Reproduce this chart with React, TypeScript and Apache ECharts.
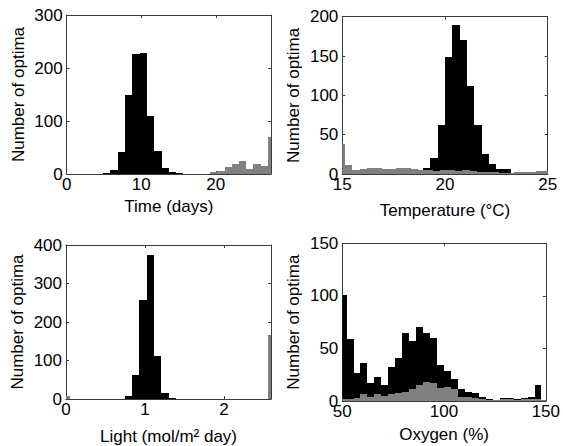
import React, { useEffect, useRef } from 'react';
import * as echarts from 'echarts';

// ---------- Data ----------
// Time panel
const timeBinWidth = 0.979;
const timeBlackFirstEdge = 4.895;
const timeBlackCounts = [2, 8, 42, 149, 227, 229, 109, 44, 11, 4, 2];
const timeGrayBinWidth = 0.969;
const timeGrayFirstEdge = 19.23;
const timeGrayCounts = [3, 6, 13, 19, 24, 10, 19, 15, 70];

// Temperature panel
const tempBinWidth = 0.357;
const tempBlackFirstEdge = 15;
const tempBlackCounts = [0, 0, 0, 0, 0, 0, 0, 0, 1, 2, 2, 7, 20, 62, 149, 189, 170, 112, 62, 26, 13, 6, 6, 1, 1, 2, 1, 1];
const tempGrayFirstEdge = 14.77;
const tempGrayCounts = [38, 11, 5, 6, 8, 8, 6, 6, 7, 7, 6, 5, 5, 4, 5, 5, 4, 5, 4, 3, 2, 2, 1, 1, 2, 3, 3, 4, 4];

// Light panel
const lightBinWidth = 0.0927;
const lightBlackFirstEdge = 0.742;
const lightBlackCounts = [8, 62, 258, 375, 112, 15, 2];
const lightGrayFirstEdge = -0.043;
const lightGrayCounts = [8, 0, 0, 0, 0, 0, 0, 0, 0, 0, 0, 0, 0, 0, 0, 0, 0, 0, 0, 0, 0, 0, 0, 0, 0, 0, 0, 0, 166];

// Oxygen panel
const oxyBinWidth = 3.42;
const oxyFirstEdge = 48.68;
const oxyBlackCounts = [101, 59, 27, 36, 17, 23, 15, 32, 41, 65, 57, 70, 65, 60, 34, 29, 21, 11, 9, 8, 4, 2, 1, 3, 3, 2, 3, 4, 15, 1];
const oxyGrayCounts = [2, 2, 3, 7, 4, 7, 5, 7, 8, 9, 11, 15, 18, 17, 12, 13, 11, 4, 4, 3, 2, 1, 1, 2, 2, 1, 2, 2, 2, 1];

// Axis labels
const yAxisTitle = 'Number of optima';
const xTitles = ['Time (days)', 'Temperature (°C)', 'Light (mol/m² day)', 'Oxygen (%)'];

// ---------- Style ----------
const FONT = "'Liberation Sans', Arial, sans-serif";
const AXIS_COLOR = '#3a3a3a';
const BLACK = '#000000';
const GRAY = '#808080';

const toBins = (first: number, width: number, counts: number[]) =>
  counts.map((c, i) => [first + i * width, first + (i + 1) * width, c]);

const renderBar = (color: string) => (params: any, api: any) => {
  const x0 = api.value(0);
  const x1 = api.value(1);
  const h = api.value(2);
  if (!h) return null;
  const p0 = api.coord([x0, 0]);
  const p1 = api.coord([x1, h]);
  const cs = params.coordSys;
  const left = Math.round(p0[0]);
  const right = Math.round(p1[0]);
  const bottom = Math.round(p0[1]);
  const top = Math.round(p1[1]);
  const rect = echarts.graphic.clipRectByRect(
    { x: left, y: top, width: right - left, height: Math.max(bottom - top, 1) },
    { x: cs.x, y: cs.y, width: cs.width, height: cs.height }
  );
  if (!rect) return null;
  return { type: 'rect', shape: rect, style: { fill: color } };
};

type PanelCfg = {
  grid: { left: number; top: number; width: number; height: number };
  xMin: number; xMax: number; xInterval: number; hideMax: boolean;
  yMax: number; yInterval: number;
  xName: string; xNameGap: number;
  black: number[][]; gray: number[][];
};

const panels: PanelCfg[] = [
  {
    grid: { left: 66.7, top: 15, width: 204.3, height: 159 },
    xMin: 0, xMax: 27.4, xInterval: 10, hideMax: true,
    yMax: 300, yInterval: 100,
    xName: xTitles[0], xNameGap: 24,
    black: toBins(timeBlackFirstEdge, timeBinWidth, timeBlackCounts),
    gray: toBins(timeGrayFirstEdge, timeGrayBinWidth, timeGrayCounts),
  },
  {
    grid: { left: 342.3, top: 16.7, width: 205.4, height: 157.3 },
    xMin: 15, xMax: 25, xInterval: 5, hideMax: false,
    yMax: 200, yInterval: 50,
    xName: xTitles[1], xNameGap: 28,
    black: toBins(tempBlackFirstEdge, tempBinWidth, tempBlackCounts),
    gray: toBins(tempGrayFirstEdge, tempBinWidth, tempGrayCounts),
  },
  {
    grid: { left: 66, top: 245, width: 205, height: 156.7 },
    xMin: 0, xMax: 2.595, xInterval: 1, hideMax: true,
    yMax: 400, yInterval: 100,
    xName: xTitles[2], xNameGap: 29,
    black: toBins(lightBlackFirstEdge, lightBinWidth, lightBlackCounts),
    gray: toBins(lightGrayFirstEdge, lightBinWidth, lightGrayCounts),
  },
  {
    grid: { left: 342.3, top: 243.3, width: 205.4, height: 157.7 },
    xMin: 50, xMax: 150, xInterval: 50, hideMax: false,
    yMax: 150, yInterval: 50,
    xName: xTitles[3], xNameGap: 25,
    black: toBins(oxyFirstEdge, oxyBinWidth, oxyBlackCounts),
    gray: toBins(oxyFirstEdge, oxyBinWidth, oxyGrayCounts),
  },
];

const textStyle = { fontSize: 17, color: '#000', fontFamily: FONT };

function buildOption() {
  const grid: any[] = [];
  const xAxis: any[] = [];
  const yAxis: any[] = [];
  const series: any[] = [];
  panels.forEach((p, i) => {
    grid.push({ ...p.grid, containLabel: false });
    const line = { show: true, onZero: false, lineStyle: { color: AXIS_COLOR, width: 1 } };
    const tick = { show: true, inside: true, length: 3, lineStyle: { color: AXIS_COLOR } };
    xAxis.push({
      type: 'value', gridIndex: i, position: 'bottom',
      min: p.xMin, max: p.xMax, interval: p.xInterval,
      axisLine: line, axisTick: tick, splitLine: { show: false },
      axisLabel: { ...textStyle, margin: 2, showMaxLabel: !p.hideMax, showMinLabel: true },
      name: p.xName, nameLocation: 'middle', nameGap: p.xNameGap,
      nameTextStyle: textStyle,
    });
    xAxis.push({
      type: 'value', gridIndex: i, position: 'top',
      min: p.xMin, max: p.xMax, interval: p.xInterval,
      axisLine: line, axisTick: tick, splitLine: { show: false },
      axisLabel: { show: false },
    });
    yAxis.push({
      type: 'value', gridIndex: i, position: 'left',
      min: 0, max: p.yMax, interval: p.yInterval,
      axisLine: line, axisTick: tick, splitLine: { show: false },
      axisLabel: { ...textStyle, margin: 4 },
      name: yAxisTitle, nameLocation: 'middle', nameGap: 40,
      nameTextStyle: textStyle,
    });
    yAxis.push({
      type: 'value', gridIndex: i, position: 'right',
      min: 0, max: p.yMax, interval: p.yInterval,
      axisLine: line, axisTick: tick, splitLine: { show: false },
      axisLabel: { show: false },
    });
    series.push({
      type: 'custom', xAxisIndex: i * 2, yAxisIndex: i * 2,
      renderItem: renderBar(BLACK), data: p.black,
      encode: { x: [0, 1], y: 2 }, z: 2,
    });
    series.push({
      type: 'custom', xAxisIndex: i * 2, yAxisIndex: i * 2,
      renderItem: renderBar(GRAY), data: p.gray,
      encode: { x: [0, 1], y: 2 }, z: 3,
    });
  });
  return {
    animation: false,
    backgroundColor: '#ffffff',
    textStyle: { fontFamily: FONT },
    grid, xAxis, yAxis, series,
  };
}

export default function App() {
  const ref = useRef<HTMLDivElement>(null);
  useEffect(() => {
    if (!ref.current) return;
    const chart = echarts.init(ref.current, undefined, { renderer: 'svg' });
    chart.setOption(buildOption() as any);
    return () => chart.dispose();
  }, []);
  return (
    <div
      ref={ref}
      style={{ position: 'absolute', left: 0, top: 0, width: 563, height: 446, background: '#fff' }}
    />
  );
}
